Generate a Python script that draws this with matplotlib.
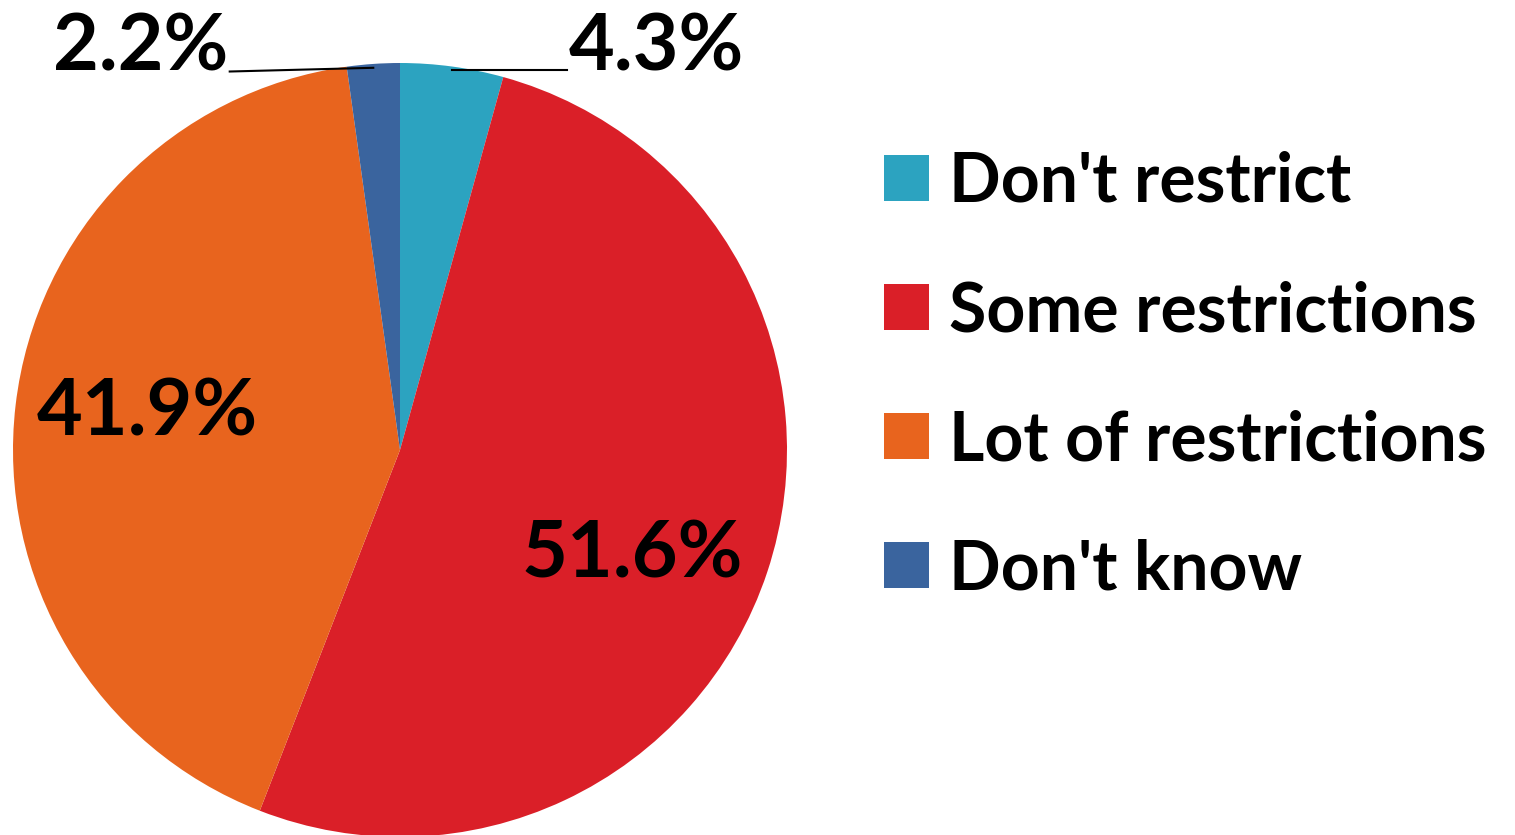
import numpy as np
import matplotlib.pyplot as plt
from matplotlib.patches import Patch

plt.rcParams['font.family'] = ['Lato', 'DejaVu Sans']
plt.rcParams['font.weight'] = 'bold'

# Data
labels = ["Don't restrict", "Some restrictions", "Lot of restrictions", "Don't know"]
values = [4.3, 51.6, 41.9, 2.2]
colors = ['#2ca3c0', '#da1f28', '#e8641e', '#3a649e']

fig = plt.figure(figsize=(15.15, 8.35), dpi=100)
ax = fig.add_axes([13 / 1515, -2 / 835, 774 / 1515, 774 / 835])

wedges, _ = ax.pie(values, colors=colors, startangle=90, counterclock=False,
                   radius=1, wedgeprops=dict(linewidth=0))
ax.set_xlim(-1, 1)
ax.set_ylim(-1, 1)
ax.set_aspect('equal')
ax.axis('off')

# Percent labels (inside for big slices, leader line for the small ones)
angle_shift = {51.6: -6.0, 41.9: -1.5}
for w, v in zip(wedges, values):
    mid_deg = (w.theta1 + w.theta2) / 2
    txt = f'{v}%'
    if v > 10:
        mid = np.deg2rad(mid_deg + angle_shift.get(v, 0))
        r = 0.66
        ax.text(r * np.cos(mid), r * np.sin(mid), txt, ha='center', va='center',
                fontsize=57, color='black')
    else:
        mid = np.deg2rad(mid_deg)
        ex, ey = np.cos(mid), np.sin(mid)
        if ex > 0:
            ax.plot([ex, 0.432], [ey - 0.01, ey - 0.01], color='black', lw=1.5, clip_on=False)
            ax.text(0.437, 0.98, txt, ha='left', va='baseline', fontsize=57, color='black')
        else:
            ax.plot([ex, -0.44], [ey - 0.01, 0.978], color='black', lw=1.5, clip_on=False)
            ax.text(-0.443, 0.98, txt, ha='right', va='baseline', fontsize=57, color='black')

handles = [Patch(facecolor=c, edgecolor='none') for c in colors]
fig.legend(handles, labels, loc='upper left', bbox_to_anchor=(884 / 1515, 1 - 151 / 835),
           frameon=False, fontsize=49, handlelength=0.66, handleheight=0.66,
           handletextpad=0.3, labelspacing=0.97, borderaxespad=0, borderpad=0)

fig.savefig('out.png', dpi=100)
